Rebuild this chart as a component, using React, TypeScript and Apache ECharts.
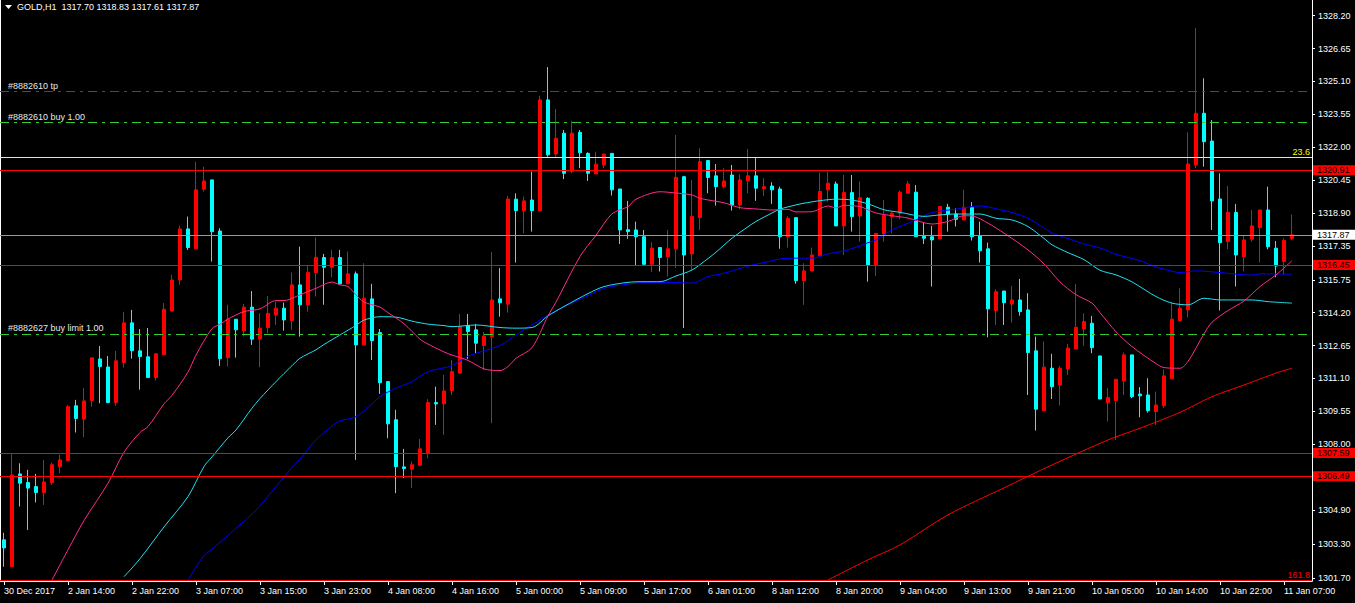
import React, { useEffect, useRef } from "react";
import * as echarts from "echarts";

const FONT = "'Liberation Sans', Arial, sans-serif";

// time labels, one every 8 bars
const timeLabels = [
  "30 Dec 2017", "2 Jan 14:00", "2 Jan 22:00", "3 Jan 07:00", "3 Jan 15:00", "3 Jan 23:00",
  "4 Jan 08:00", "4 Jan 16:00", "5 Jan 00:00", "5 Jan 09:00", "5 Jan 17:00", "6 Jan 01:00",
  "8 Jan 12:00", "8 Jan 20:00", "9 Jan 04:00", "9 Jan 13:00", "9 Jan 21:00", "10 Jan 05:00",
  "10 Jan 14:00", "10 Jan 22:00", "11 Jan 07:00",
];

// [open, high, low, close]
const ohlc: number[][] = [
  [1303.49, 1303.82, 1302.22, 1303.11], [1302.23, 1307.58, 1302.23, 1306.55], [1306.60, 1307.10, 1305.06, 1306.16],
  [1306.19, 1306.79, 1303.96, 1305.93], [1306.00, 1306.60, 1305.25, 1305.72], [1305.72, 1307.26, 1305.14, 1306.22],
  [1306.19, 1307.13, 1306.08, 1307.03], [1306.94, 1307.50, 1306.63, 1307.26], [1307.23, 1309.85, 1307.18, 1309.77],
  [1309.81, 1310.09, 1308.55, 1309.21], [1309.18, 1310.65, 1308.33, 1310.04], [1310.06, 1312.10, 1309.77, 1312.07],
  [1312.02, 1312.63, 1309.93, 1311.66], [1311.64, 1312.16, 1309.93, 1309.96], [1309.96, 1312.40, 1309.81, 1311.93],
  [1311.85, 1314.24, 1311.61, 1313.72], [1313.72, 1314.33, 1312.03, 1312.41], [1312.40, 1313.43, 1310.57, 1312.13],
  [1312.12, 1313.48, 1311.14, 1311.14], [1311.14, 1312.30, 1311.00, 1312.26], [1312.22, 1314.65, 1312.22, 1314.36],
  [1314.28, 1315.98, 1314.25, 1315.74], [1315.74, 1318.29, 1315.51, 1318.15], [1318.15, 1318.73, 1317.16, 1317.27],
  [1317.21, 1321.31, 1317.21, 1319.99], [1320.02, 1321.08, 1319.91, 1320.41], [1320.46, 1320.46, 1316.61, 1318.02],
  [1318.05, 1318.18, 1311.69, 1312.03], [1312.08, 1314.57, 1311.66, 1313.89], [1313.89, 1313.89, 1312.08, 1313.39],
  [1313.35, 1314.61, 1313.07, 1314.46], [1314.46, 1315.22, 1312.68, 1312.95], [1312.95, 1314.17, 1311.63, 1313.47],
  [1313.50, 1314.99, 1313.23, 1314.17], [1314.09, 1314.72, 1313.62, 1314.41], [1314.41, 1314.67, 1313.35, 1313.86],
  [1313.83, 1316.09, 1313.39, 1315.51], [1315.51, 1317.31, 1313.07, 1314.57], [1314.57, 1316.40, 1314.25, 1316.09],
  [1316.09, 1317.74, 1314.96, 1316.81], [1316.80, 1316.97, 1314.57, 1316.34], [1316.34, 1317.16, 1315.87, 1316.80],
  [1316.80, 1317.16, 1315.51, 1315.56], [1315.56, 1317.08, 1315.56, 1316.03], [1316.03, 1316.14, 1307.26, 1312.68],
  [1312.68, 1316.53, 1312.68, 1314.88], [1314.85, 1315.56, 1311.97, 1312.88], [1313.26, 1313.43, 1310.37, 1310.90],
  [1310.95, 1310.98, 1308.28, 1308.96], [1309.15, 1309.62, 1305.69, 1306.94], [1306.93, 1307.78, 1306.40, 1306.85],
  [1306.82, 1307.18, 1305.93, 1307.03], [1307.01, 1308.24, 1306.95, 1307.78], [1307.58, 1310.12, 1307.34, 1309.96],
  [1309.96, 1310.71, 1308.91, 1309.90], [1309.90, 1311.27, 1308.44, 1310.51], [1310.53, 1311.97, 1310.32, 1311.42],
  [1311.35, 1314.14, 1311.30, 1313.54], [1313.59, 1314.14, 1312.02, 1313.31], [1313.39, 1313.66, 1312.29, 1312.76],
  [1312.65, 1313.29, 1311.50, 1313.10], [1313.07, 1317.05, 1308.99, 1314.80], [1314.85, 1316.30, 1314.01, 1314.67],
  [1314.60, 1319.70, 1314.20, 1319.56], [1319.55, 1319.83, 1316.56, 1319.01], [1319.01, 1319.67, 1317.94, 1319.47],
  [1319.51, 1320.85, 1318.02, 1319.01], [1319.01, 1324.43, 1319.01, 1324.23], [1324.23, 1325.78, 1321.55, 1321.64],
  [1321.68, 1323.80, 1321.55, 1322.42], [1322.66, 1322.81, 1320.50, 1320.77], [1320.85, 1323.24, 1320.77, 1322.66],
  [1322.70, 1322.81, 1321.01, 1321.74], [1321.71, 1321.76, 1320.41, 1320.77], [1320.74, 1321.79, 1320.74, 1321.20],
  [1321.16, 1321.71, 1321.01, 1321.67], [1321.71, 1321.71, 1319.72, 1319.99], [1320.03, 1320.03, 1317.44, 1318.10],
  [1318.11, 1319.47, 1317.68, 1318.02], [1318.10, 1318.49, 1316.42, 1317.78], [1317.78, 1318.10, 1316.42, 1316.48],
  [1316.48, 1317.52, 1316.11, 1317.24], [1317.27, 1317.27, 1316.14, 1316.80], [1316.84, 1318.10, 1315.90, 1317.21],
  [1317.21, 1322.58, 1316.30, 1320.58], [1320.61, 1320.65, 1313.48, 1316.92], [1316.97, 1320.46, 1316.21, 1318.73],
  [1318.68, 1321.95, 1318.10, 1321.32], [1321.37, 1321.37, 1319.83, 1320.57], [1320.65, 1321.21, 1319.25, 1320.14],
  [1320.14, 1321.01, 1320.07, 1320.41], [1320.69, 1321.16, 1319.01, 1319.28], [1319.28, 1320.73, 1319.08, 1320.46],
  [1320.42, 1321.92, 1319.83, 1320.65], [1320.65, 1321.53, 1319.47, 1320.07], [1320.05, 1320.54, 1319.70, 1320.14],
  [1320.17, 1320.35, 1319.33, 1319.99], [1320.03, 1320.14, 1317.21, 1317.78], [1317.78, 1318.76, 1317.27, 1318.65],
  [1318.68, 1318.68, 1315.56, 1315.71], [1315.71, 1316.53, 1314.57, 1316.17], [1316.17, 1317.27, 1316.14, 1316.92],
  [1316.89, 1320.80, 1316.84, 1319.91], [1319.99, 1320.85, 1319.43, 1320.30], [1320.27, 1320.38, 1318.29, 1318.29],
  [1318.29, 1320.69, 1316.92, 1319.86], [1319.86, 1320.69, 1318.02, 1318.73], [1318.76, 1320.38, 1317.55, 1319.62],
  [1319.59, 1319.64, 1315.66, 1316.45], [1316.45, 1317.94, 1315.93, 1317.94], [1317.91, 1319.51, 1317.55, 1318.78],
  [1318.73, 1318.96, 1317.94, 1318.89], [1318.89, 1319.95, 1318.60, 1319.88], [1319.83, 1320.41, 1319.83, 1320.27],
  [1319.88, 1320.22, 1317.78, 1317.78], [1317.80, 1318.44, 1317.44, 1317.71], [1317.78, 1318.29, 1315.43, 1317.63],
  [1317.68, 1319.23, 1317.68, 1319.20], [1319.17, 1319.33, 1318.02, 1318.85], [1318.85, 1319.12, 1318.26, 1318.60],
  [1318.57, 1319.99, 1318.57, 1319.17], [1319.15, 1319.41, 1317.60, 1317.78], [1317.82, 1318.49, 1316.56, 1317.12],
  [1317.21, 1317.50, 1313.04, 1314.38], [1314.30, 1315.31, 1313.62, 1315.19], [1315.22, 1315.22, 1313.62, 1314.67],
  [1314.61, 1315.46, 1313.73, 1314.80], [1314.80, 1315.79, 1314.06, 1314.25], [1314.33, 1315.12, 1310.32, 1312.32],
  [1312.40, 1313.07, 1308.64, 1309.65], [1309.58, 1312.84, 1309.58, 1311.63], [1311.58, 1312.26, 1310.13, 1310.71],
  [1310.79, 1311.69, 1309.82, 1311.58], [1311.55, 1312.73, 1311.27, 1312.53], [1312.49, 1315.56, 1312.49, 1313.51],
  [1313.43, 1314.17, 1312.63, 1313.78], [1313.70, 1314.05, 1312.29, 1312.55], [1312.16, 1312.16, 1310.13, 1310.13],
  [1309.96, 1310.64, 1309.07, 1310.20], [1310.06, 1311.06, 1308.20, 1311.06], [1310.98, 1312.32, 1310.32, 1312.21],
  [1312.21, 1312.21, 1310.17, 1310.24], [1310.36, 1310.69, 1309.27, 1310.28], [1310.32, 1311.11, 1309.49, 1309.58],
  [1309.54, 1310.48, 1308.91, 1309.85], [1309.81, 1311.53, 1309.70, 1311.22], [1311.08, 1314.67, 1311.08, 1313.89],
  [1313.83, 1315.35, 1313.78, 1314.41], [1314.33, 1322.70, 1313.98, 1321.21], [1321.16, 1327.61, 1321.01, 1323.60],
  [1323.60, 1325.25, 1321.08, 1322.26], [1322.29, 1323.28, 1318.10, 1319.47], [1319.56, 1320.77, 1314.30, 1317.50],
  [1317.55, 1320.17, 1317.19, 1318.93], [1318.92, 1319.33, 1315.43, 1316.92], [1316.84, 1317.82, 1316.14, 1317.63],
  [1317.66, 1319.04, 1317.55, 1318.29], [1318.21, 1319.04, 1316.56, 1319.04], [1319.04, 1320.14, 1317.19, 1317.31],
  [1317.24, 1317.58, 1315.87, 1316.40], [1316.61, 1317.71, 1315.98, 1317.60], [1317.70, 1318.83, 1317.61, 1317.87],
];

// moving averages, [bar index, value]
const maFast: number[][] = [
  [6, 1301.6], [8, 1303.02], [10, 1304.4], [13, 1306.16], [15, 1307.62], [17, 1308.55], [18, 1308.83], [20, 1309.9],
  [21, 1310.3], [23, 1311.4], [24, 1312.2], [26, 1313.45], [27, 1313.65], [28, 1313.9], [30, 1314.25], [32, 1314.38],
  [34, 1314.77], [35, 1314.77], [37, 1315.04], [39, 1315.35], [41, 1315.64], [42, 1315.51], [43, 1315.43], [44, 1315.04],
  [45, 1314.7], [47, 1314.46], [48, 1314.2], [50, 1313.68], [52, 1312.95], [53, 1312.72], [55, 1312.35], [56, 1312.2],
  [58, 1311.95], [60, 1311.55], [62, 1311.47], [63, 1311.66], [64, 1312.05], [66, 1312.55], [68, 1314.05], [69, 1314.7],
  [72, 1316.85], [74, 1317.85], [76, 1318.86], [78, 1319.2], [79, 1319.55], [82, 1319.9], [84, 1319.84], [86, 1319.75],
  [87, 1319.59], [89, 1319.45], [90, 1319.38], [92, 1319.15], [94, 1319.09], [96, 1319.04], [98, 1319.07], [99, 1318.95],
  [101, 1318.96], [103, 1319.23], [104, 1319.14], [105, 1319.26], [107, 1319.2], [108, 1319.05], [109, 1318.9], [111, 1318.77],
  [113, 1318.66], [116, 1318.38], [118, 1318.5], [120, 1318.77], [121, 1318.76], [123, 1318.42], [125, 1317.95], [128, 1317.16],
  [130, 1316.5], [132, 1315.65], [134, 1315.05], [136, 1314.65], [137, 1314.2], [139, 1313.3], [141, 1312.6], [144, 1311.8],
  [145, 1311.61], [147, 1311.58], [148, 1311.9], [150, 1313.2], [151, 1313.75], [153, 1314.3], [155, 1314.75], [157, 1315.43],
  [159, 1315.98], [161, 1316.65],
];
const maMid: number[][] = [
  [15, 1301.75], [17, 1302.6], [20, 1304.1], [23, 1305.53], [25, 1306.95], [26, 1307.4], [28, 1308.3], [29, 1308.67],
  [31, 1309.7], [32, 1310.15], [34, 1310.95], [36, 1311.7], [37, 1312.05], [39, 1312.45], [40, 1312.7], [42, 1313.15],
  [44, 1313.6], [45, 1313.85], [47, 1314.01], [49, 1313.99], [51, 1313.8], [53, 1313.66], [55, 1313.59], [56, 1313.54],
  [59, 1313.62], [62, 1313.5], [64, 1313.47], [66, 1313.5], [68, 1314.05], [70, 1314.49], [73, 1315.1], [75, 1315.43],
  [78, 1315.63], [80, 1315.66], [82, 1315.66], [84, 1315.93], [86, 1316.21], [88, 1316.75], [89, 1317.05], [91, 1317.71],
  [93, 1318.25], [94, 1318.5], [96, 1318.9], [97, 1319.08], [99, 1319.28], [100, 1319.36], [102, 1319.48], [104, 1319.55],
  [106, 1319.51], [108, 1319.33], [110, 1319.05], [112, 1318.93], [115, 1318.74], [117, 1318.81], [119, 1318.85], [122, 1318.85],
  [124, 1318.65], [126, 1318.57], [128, 1318.26], [130, 1317.7], [131, 1317.4], [133, 1317.03], [135, 1316.7], [137, 1316.2],
  [139, 1315.98], [141, 1315.65], [144, 1314.96], [146, 1314.65], [148, 1314.57], [150, 1314.88], [152, 1314.8], [156, 1314.8],
  [158, 1314.72], [161, 1314.65],
];
const maSlow: number[][] = [
  [23, 1301.6], [25, 1302.75], [26, 1303.05], [28, 1303.7], [31, 1304.7], [32, 1305.1], [34, 1306.0], [36, 1306.9],
  [37, 1307.3], [39, 1308.2], [41, 1308.85], [42, 1309.1], [44, 1309.3], [46, 1309.9], [47, 1310.25], [49, 1310.64],
  [51, 1310.95], [53, 1311.42], [55, 1311.6], [56, 1311.7], [58, 1312.15], [62, 1312.65], [64, 1313.15], [67, 1313.86],
  [70, 1314.49], [73, 1315.0], [75, 1315.35], [78, 1315.55], [80, 1315.62], [84, 1315.62], [86, 1315.59], [88, 1315.9],
  [90, 1316.06], [93, 1316.4], [95, 1316.56], [97, 1316.73], [99, 1316.77], [101, 1316.77], [103, 1316.97], [105, 1317.11],
  [107, 1317.35], [108, 1317.5], [109, 1317.63], [111, 1318.1], [114, 1318.57], [116, 1318.92], [119, 1319.08], [122, 1319.23],
  [125, 1319.01], [126, 1318.92], [128, 1318.65], [130, 1318.2], [131, 1317.95], [133, 1317.7], [135, 1317.44], [137, 1317.25],
  [139, 1316.95], [142, 1316.65], [144, 1316.35], [145, 1316.25], [147, 1316.09], [149, 1316.17], [152, 1316.09], [156, 1315.97],
  [157, 1316.03], [161, 1316.01],
];
const maLong: number[][] = [
  [103, 1301.6], [108, 1302.55], [112, 1303.25], [118, 1304.67], [125, 1305.94], [131, 1307.02], [138, 1308.2],
  [142, 1308.75], [147, 1309.5], [151, 1310.24], [155, 1310.79], [159, 1311.35], [161, 1311.58],
];

const yTicks = [
  1301.7, 1303.3, 1304.9, 1308.0, 1309.55, 1311.1, 1312.65, 1314.2, 1315.75, 1317.35, 1318.9, 1320.45,
  1322.0, 1323.55, 1325.1, 1326.65, 1328.2,
];
const Y_MIN = 1301.55;
const Y_MAX = 1328.94;

const orderLabels = ["#8882610 tp", "#8882610 buy 1.00", "#8882627 buy limit 1.00"];
const orderPrices = [1324.62, 1323.16, 1313.2];
const levelPrices = [1320.91, 1316.45, 1307.59, 1306.49];
const bidPrice = 1317.87;
const fiboLabels = ["23.6", "161.8"];
const fiboPrices = [1321.53, 1301.58];
const header = "GOLD,H1  1317.70 1318.83 1317.61 1317.87";

const EXTRA_SLOTS = 2;

export default function App() {
  const ref = useRef<HTMLDivElement>(null);

  useEffect(() => {
    if (!ref.current) return;
    const chart = echarts.init(ref.current, undefined, { renderer: "svg" });

    const total = ohlc.length + EXTRA_SLOTS;
    const categories: string[] = [];
    for (let i = 0; i < total; i++) {
      categories.push(i % 8 === 0 && i / 8 < timeLabels.length ? timeLabels[i / 8] : "");
    }
    const showIdx = (i: number) => i % 8 === 0 && i / 8 < timeLabels.length;

    const markData: any[] = [];
    orderPrices.forEach((v, k) => {
      markData.push({
        yAxis: v,
        lineStyle: { color: k === 0 ? "#ff0000" : "#32cd32", type: [9, 5, 3, 5], width: 1 },
        label: {
          show: true,
          position: "insideStartTop",
          formatter: orderLabels[k],
          color: "#e8e8e8",
          fontFamily: FONT,
          fontSize: 9,
          distance: [8, 1],
        },
      });
    });
    levelPrices.forEach((v) => {
      markData.push({
        yAxis: v,
        lineStyle: { color: "#ff0000", type: "solid", width: 1 },
        label: {
          show: true,
          position: "end",
          formatter: v.toFixed(2),
          color: "#000",
          backgroundColor: "#ff0000",
          padding: [1, 6, 0, 4],
          lineHeight: 9,
          fontFamily: FONT,
          fontSize: 9,
          distance: 1,
        },
      });
    });
    markData.push({
      yAxis: bidPrice,
      lineStyle: { color: "#8c9cac", type: "solid", width: 1 },
      label: {
        show: true,
        position: "end",
        formatter: bidPrice.toFixed(2),
        color: "#000",
        backgroundColor: "#ffffff",
        padding: [1, 6, 0, 4],
        lineHeight: 9,
        fontFamily: FONT,
        fontSize: 9,
        distance: 1,
      },
    });
    fiboPrices.forEach((v, k) => {
      const col = k === 0 ? "#ffff00" : "#ff0000";
      markData.push({
        yAxis: v,
        lineStyle: { color: col, type: "solid", width: 1 },
        label: {
          show: true,
          position: "insideEndTop",
          formatter: fiboLabels[k],
          color: col,
          fontFamily: FONT,
          fontSize: 9,
          distance: [2, 1],
        },
      });
    });

    const maLine = (data: number[][], color: string) => ({
      type: "line",
      data,
      symbol: "none",
      showSymbol: false,
      smooth: 0.3,
      clip: true,
      z: 4,
      lineStyle: { color, width: 1 },
      silent: true,
    });

    const option: any = {
      animation: false,
      backgroundColor: "#000000",
      textStyle: { fontFamily: FONT, fontSize: 9 },
      title: {
        text: header,
        left: 17,
        top: 2,
        padding: 0,
        textStyle: { color: "#ffffff", fontSize: 9, fontWeight: "normal", fontFamily: FONT },
      },
      graphic: [
        {
          type: "polygon",
          shape: { points: [[5, 5], [12, 5], [8.5, 9]] },
          style: { fill: "#ffffff" },
          z: 100,
        },
      ],
      grid: { left: 0, right: 43, top: 0, bottom: 22, containLabel: false },
      xAxis: {
        type: "category",
        data: categories,
        boundaryGap: true,
        axisLine: { show: true, onZero: false, lineStyle: { color: "#ffffff", width: 1 } },
        axisTick: {
          show: true,
          alignWithLabel: true,
          interval: (i: number) => showIdx(i),
          length: 4,
          lineStyle: { color: "#ffffff" },
        },
        axisLabel: {
          interval: (i: number) => showIdx(i),
          align: "left",
          color: "#ffffff",
          margin: 5,
          fontSize: 9,
          fontFamily: FONT,
        },
        splitLine: { show: false },
      },
      yAxis: [
        {
          type: "value",
          position: "right",
          min: Y_MIN,
          max: Y_MAX,
          axisLine: { show: true, onZero: false, lineStyle: { color: "#ffffff", width: 1 } },
          axisTick: { show: true, length: 3, customValues: yTicks, lineStyle: { color: "#ffffff" } },
          axisLabel: {
            show: true,
            customValues: yTicks,
            formatter: (v: number) => v.toFixed(2),
            color: "#ffffff",
            margin: 6,
            fontSize: 9,
            fontFamily: FONT,
          },
          splitLine: { show: false },
        },
        {
          type: "value",
          position: "left",
          min: Y_MIN,
          max: Y_MAX,
          axisLine: { show: true, onZero: false, lineStyle: { color: "#ffffff", width: 1 } },
          axisTick: { show: false },
          axisLabel: { show: false },
          splitLine: { show: false },
        },
      ],
      series: [
        {
          type: "candlestick",
          yAxisIndex: 0,
          data: ohlc.map(([o, h, l, c]) => [o, c, l, h]),
          barWidth: 4,
          itemStyle: {
            color: "#ff0000",
            color0: "#00ffff",
            borderColor: "#ff0000",
            borderColor0: "#00ffff",
            borderWidth: 1,
          },
          silent: true,
          markLine: {
            symbol: ["none", "none"],
            silent: true,
            animation: false,
            data: markData,
          },
        },
        maLine(maLong, "#ff0000"),
        maLine(maSlow, "#0000ff"),
        maLine(maMid, "#20e0f0"),
        maLine(maFast, "#ff2a8a"),
      ],
    };

    chart.setOption(option);
    return () => chart.dispose();
  }, []);

  return (
    <div
      ref={ref}
      style={{ position: "fixed", left: 0, top: 0, width: 1355, height: 603, background: "#000" }}
    />
  );
}
